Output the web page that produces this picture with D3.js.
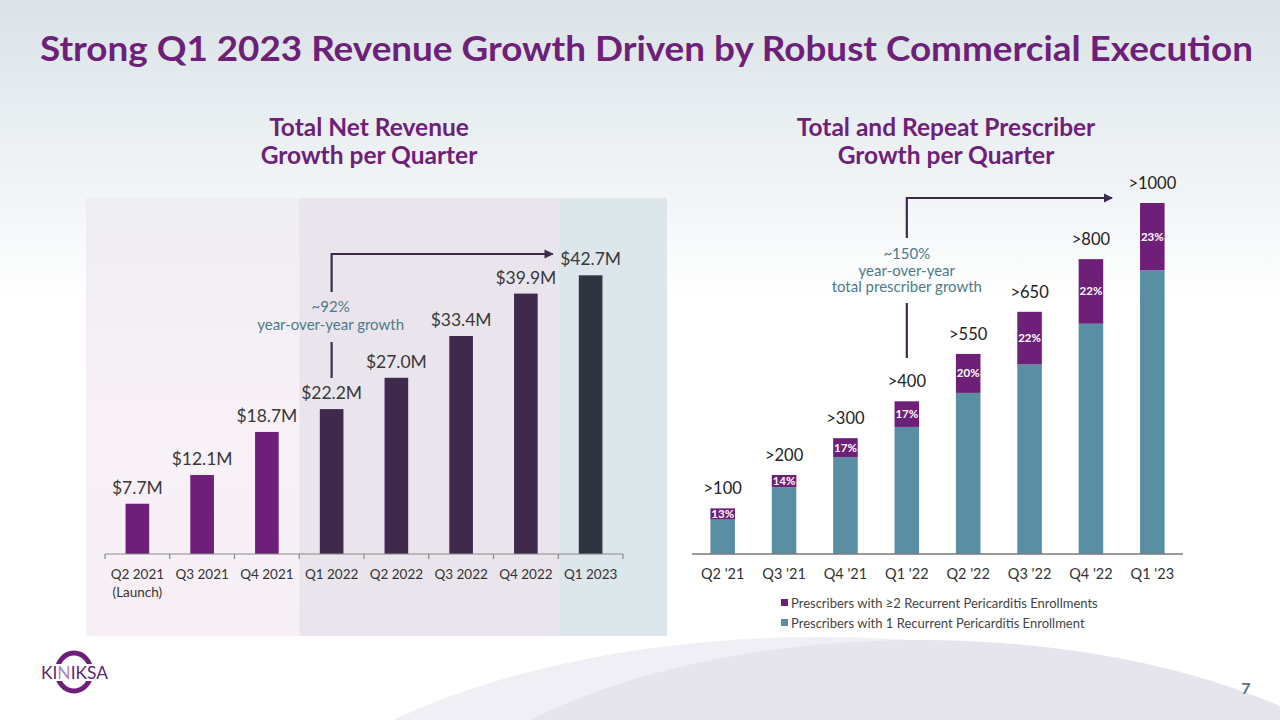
<!DOCTYPE html>
<html><head><meta charset="utf-8">
<script src="https://cdn.jsdelivr.net/npm/d3@7"></script>
<style>html,body{margin:0;padding:0;background:#fff;}svg{display:block;font-family:Lato,"Open Sans",sans-serif;}</style>
</head><body>
<script>
// ---------- data ----------
const revCategories = ["Q2 2021","Q3 2021","Q4 2021","Q1 2022","Q2 2022","Q3 2022","Q4 2022","Q1 2023"];
const revSubLabels = ["(Launch)","","","","","","",""];
const revValues = [7.7, 12.1, 18.7, 22.2, 27.0, 33.4, 39.9, 42.7];
const revPeriod = ["2021","2021","2021","LTM","LTM","LTM","LTM","Q1 2023"];

const presCategories = ["Q2 '21","Q3 '21","Q4 '21","Q1 '22","Q2 '22","Q3 '22","Q4 '22","Q1 '23"];
const presOne = [98, 190, 276, 362, 459, 540, 656, 808];
const presRepeat = [32, 35, 54, 73, 111, 150, 184, 192];
const presTotalLabels = [">100",">200",">300",">400",">550",">650",">800",">1000"];
const presRepeatPct = ["13%","14%","17%","17%","20%","22%","22%","23%"];
const legendLabels = ["Prescribers with \u22652 Recurrent Pericarditis Enrollments","Prescribers with 1 Recurrent Pericarditis Enrollment"];

(function(){
// ---------- setup ----------
const W = 1280, H = 720;
const PURPLE = "#6e1f78", DARK = "#3f2a4e", SLATE = "#2e3540", TEAL = "#5a8fa3", NOTE = "#4e7a8a";
const svg = d3.select("body").append("svg").attr("width", W).attr("height", H);
const defs = svg.append("defs");
const bg = defs.append("linearGradient").attr("id","bg").attr("x1",0).attr("y1",0).attr("x2",0).attr("y2",1);
bg.append("stop").attr("offset","0").attr("stop-color","#dae3e8");
bg.append("stop").attr("offset","0.42").attr("stop-color","#ffffff");
bg.append("stop").attr("offset","1").attr("stop-color","#ffffff");
const lp = defs.append("linearGradient").attr("id","lp").attr("x1",0).attr("y1",0).attr("x2",0).attr("y2",1);
lp.append("stop").attr("offset","0").attr("stop-color","#eeedf2");
lp.append("stop").attr("offset","0.5").attr("stop-color","#f8f1f7");
lp.append("stop").attr("offset","1").attr("stop-color","#f7eff6");
defs.append("marker").attr("id","arr").attr("viewBox","0 0 10 10").attr("refX",9).attr("refY",5)
  .attr("markerWidth",4.2).attr("markerHeight",4.2).attr("orient","auto")
  .append("path").attr("d","M0,0L10,5L0,10Z").attr("fill",DARK);

svg.append("rect").attr("width",W).attr("height",H).attr("fill","url(#bg)");
// bottom swooshes
svg.append("ellipse").attr("cx",820).attr("cy",905).attr("rx",590).attr("ry",268).attr("fill","#f0eff5");
svg.append("ellipse").attr("cx",920).attr("cy",890).attr("rx",532).attr("ry",250).attr("fill","#e6e5ee");

// title
svg.append("text").attr("x",40).attr("y",61).attr("fill",PURPLE).attr("font-size",35).attr("font-weight",700)
  .attr("textLength",1213).attr("lengthAdjust","spacingAndGlyphs")
  .text("Strong Q1 2023 Revenue Growth Driven by Robust Commercial Execution");

function subtitle(x, lines){
  lines.forEach((t,i)=>svg.append("text").attr("x",x).attr("y",136+i*28).attr("text-anchor","middle")
    .attr("fill",PURPLE).attr("font-size",24.5).attr("font-weight",700).text(t));
}
subtitle(369, ["Total Net Revenue","Growth per Quarter"]);
subtitle(946, ["Total and Repeat Prescriber","Growth per Quarter"]);

// ---------- left chart ----------
const xL = d3.scaleBand().domain(revCategories).range([105, 623]).paddingInner(0.635).paddingOuter(0.3175);
const yL = d3.scaleLinear().domain([0, 42.7]).range([554, 275.3]);
const step = xL.step();
const bandStart = c => xL(c) - xL.paddingInner()*step/2;

// panel sections
const panelTop = 198, panelBot = 636;
const secs = [
  {x0: 86, x1: bandStart("Q1 2022"), fill: "url(#lp)"},
  {x0: bandStart("Q1 2022"), x1: bandStart("Q1 2023"), fill: "#eae5ec"},
  {x0: bandStart("Q1 2023"), x1: 667, fill: "#dde6eb"}
];
svg.append("g").selectAll("rect").data(secs).join("rect")
  .attr("x",d=>d.x0).attr("y",panelTop).attr("width",d=>d.x1-d.x0).attr("height",panelBot-panelTop).attr("fill",d=>d.fill);

const colorL = d3.scaleOrdinal().domain(["2021","LTM","Q1 2023"]).range([PURPLE, DARK, SLATE]);
svg.append("g").selectAll("rect").data(revValues).join("rect")
  .attr("x",(d,i)=>xL(revCategories[i])).attr("width",xL.bandwidth())
  .attr("y",d=>yL(d)).attr("height",d=>yL(0)-yL(d)).attr("fill",(d,i)=>colorL(revPeriod[i]));
svg.append("g").selectAll("text").data(revValues).join("text")
  .attr("x",(d,i)=>xL(revCategories[i])+xL.bandwidth()/2).attr("y",d=>yL(d)-10)
  .attr("text-anchor","middle").attr("font-size",17.5).attr("fill","#383838")
  .text(d=>"$"+d3.format(".1f")(d)+"M");

// axis
const axL = svg.append("g").attr("transform","translate(0,554)");
axL.append("line").attr("x1",105).attr("x2",623).attr("stroke","#8a8a8a").attr("stroke-width",1.2);
axL.selectAll("line.t").data(d3.range(revCategories.length+1)).join("line").attr("class","t")
  .attr("x1",i=>105+i*step).attr("x2",i=>105+i*step).attr("y1",0).attr("y2",5).attr("stroke","#8a8a8a").attr("stroke-width",1.2);
axL.selectAll("text.c").data(revCategories).join("text").attr("class","c")
  .attr("x",c=>xL(c)+xL.bandwidth()/2).attr("y",25).attr("text-anchor","middle").attr("font-size",13.5).attr("fill","#333").text(c=>c);
axL.selectAll("text.s").data(revSubLabels).join("text").attr("class","s")
  .attr("x",(c,i)=>xL(revCategories[i])+xL.bandwidth()/2).attr("y",43).attr("text-anchor","middle").attr("font-size",13.5).attr("fill","#333").text(c=>c);

// annotation left
const ax0 = xL("Q1 2022")+xL.bandwidth()/2, ax1 = xL("Q1 2023")-26;
svg.append("path").attr("d",`M${ax0},292V254H${ax1}`).attr("fill","none").attr("stroke",DARK).attr("stroke-width",2.2).attr("marker-end","url(#arr)");
svg.append("line").attr("x1",ax0).attr("x2",ax0).attr("y1",342).attr("y2",378).attr("stroke",DARK).attr("stroke-width",2.2);
svg.append("text").attr("x",ax0-1).attr("y",312).attr("text-anchor","middle").attr("font-size",15).attr("fill",NOTE).text("~92%");
svg.append("text").attr("x",ax0-1).attr("y",330).attr("text-anchor","middle").attr("font-size",15).attr("fill",NOTE).text("year-over-year growth");

// ---------- right chart ----------
const xR = d3.scaleBand().domain(presCategories).range([692, 1183]).paddingInner(0.6).paddingOuter(0.3);
const yR = d3.scaleLinear().domain([0, 1000]).range([554, 203]);
const stackData = presCategories.map((c,i)=>({cat:c, one:presOne[i], repeat:presRepeat[i]}));
const series = d3.stack().keys(["one","repeat"])(stackData);
const colorR = d3.scaleOrdinal().domain(["one","repeat"]).range([TEAL, PURPLE]);
svg.append("g").selectAll("g").data(series).join("g").attr("fill",s=>colorR(s.key))
  .selectAll("rect").data(s=>s).join("rect")
  .attr("x",d=>xR(d.data.cat)).attr("width",xR.bandwidth())
  .attr("y",d=>yR(d[1])).attr("height",d=>yR(d[0])-yR(d[1]));
const upper = series[1];
svg.append("g").selectAll("text").data(upper).join("text")
  .attr("x",d=>xR(d.data.cat)+xR.bandwidth()/2).attr("y",d=>(yR(d[0])+yR(d[1]))/2+4)
  .attr("text-anchor","middle").attr("font-size",11.5).attr("font-weight",700).attr("fill","#fff")
  .text((d,i)=>presRepeatPct[i]);
svg.append("g").selectAll("text").data(upper).join("text")
  .attr("x",d=>xR(d.data.cat)+xR.bandwidth()/2).attr("y",d=>yR(d[1])-14)
  .attr("text-anchor","middle").attr("font-size",16.5).attr("fill","#222")
  .text((d,i)=>presTotalLabels[i]);

const axR = svg.append("g").attr("transform","translate(0,554)");
axR.append("line").attr("x1",692).attr("x2",1183).attr("stroke","#7a7a7a").attr("stroke-width",1.5);
axR.selectAll("text").data(presCategories).join("text")
  .attr("x",c=>xR(c)+xR.bandwidth()/2).attr("y",25).attr("text-anchor","middle").attr("font-size",14.5).attr("fill","#333").text(c=>c);

// annotation right
const bx0 = xR("Q1 '22")+xR.bandwidth()/2, bx1 = xR("Q1 '23")-28;
svg.append("path").attr("d",`M${bx0},238V198H${bx1}`).attr("fill","none").attr("stroke",DARK).attr("stroke-width",2.2).attr("marker-end","url(#arr)");
svg.append("line").attr("x1",bx0).attr("x2",bx0).attr("y1",303).attr("y2",358).attr("stroke",DARK).attr("stroke-width",2.2);
["~150%","year-over-year","total prescriber growth"].forEach((t,i)=>
  svg.append("text").attr("x",bx0).attr("y",259+i*16.5).attr("text-anchor","middle").attr("font-size",15).attr("fill",NOTE).text(t));

// legend
const lg = svg.append("g");
legendLabels.forEach((t,i)=>{
  const y = 603 + i*20;
  lg.append("rect").attr("x",781).attr("y",y-4).attr("width",7).attr("height",7).attr("fill",i===0?PURPLE:TEAL);
  lg.append("text").attr("x",791).attr("y",y+4.5).attr("font-size",13).attr("fill","#444").text(t);
});

// logo
const logo = svg.append("g");
logo.append("ellipse").attr("cx",74).attr("cy",672).attr("rx",17).attr("ry",19).attr("fill","none").attr("stroke",PURPLE).attr("stroke-width",5);
logo.append("rect").attr("x",40).attr("y",664).attr("width",70).attr("height",17).attr("fill","#fff");
logo.append("text").attr("x",41).attr("y",679).attr("font-size",17).attr("fill","#5b2a6c").attr("textLength",67).attr("lengthAdjust","spacingAndGlyphs")
  .html('KI<tspan fill="#a98bb8">N</tspan>IKSA');

// page number
svg.append("text").attr("x",1246).attr("y",694).attr("text-anchor","middle").attr("font-size",16).attr("font-weight",700).attr("fill","#5a7282").text("7");
})();
</script>
</body></html>
